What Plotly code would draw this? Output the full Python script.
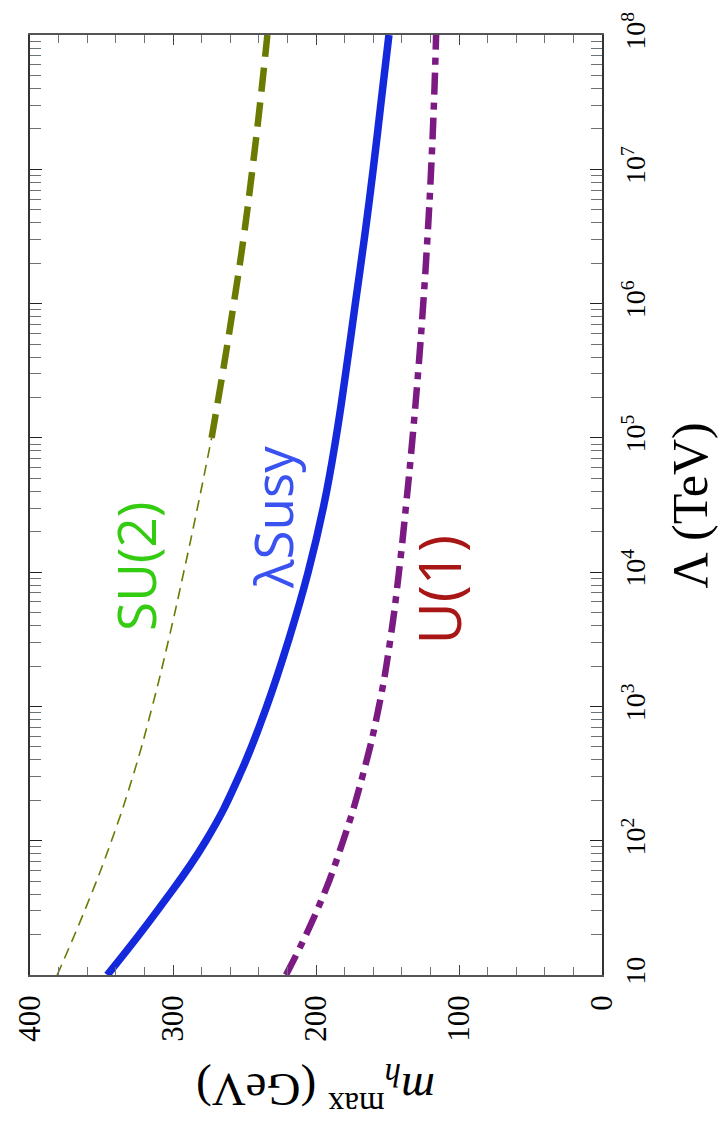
import plotly.graph_objects as go

# Cutoff scale Lambda (TeV), half-decade steps from 10 to 1e8
lambda_tev = [1e1, 31.62, 1e2, 316.2, 1e3, 3162, 1e4, 31623, 1e5,
              316228, 1e6, 3162278, 1e7, 31622777, 1e8]

# Upper bound on the light Higgs mass (GeV) for each model
su2_mh = [381, 361, 343, 327.5, 314.5, 303, 292.5, 282.5, 273, 265, 257.5, 250.5, 244.5, 239, 234]
lsusy_mh = [346, 309.5, 277, 253, 234.5, 219, 205.5, 194.5, 186, 179, 172.5, 166, 160, 154.5, 149]
u1_mh = [221, 198.5, 181, 167, 156, 148, 142, 137, 132.5, 128.5, 125, 122, 119.5, 117.5, 116]

# SU(2) curve is drawn thin below this scale and thick above it
su2_split = 1e5

# Axis ticks
mh_ticks = [0, 100, 200, 300, 400]
lambda_ticks = [1e1, 1e2, 1e3, 1e4, 1e5, 1e6, 1e7, 1e8]
lambda_ticktext = ["10", "10<sup>2</sup>", "10<sup>3</sup>", "10<sup>4</sup>",
                   "10<sup>5</sup>", "10<sup>6</sup>", "10<sup>7</sup>", "10<sup>8</sup>"]
lambda_minor = [k * 10 ** n for n in range(1, 8) for k in range(2, 10)]

OLIVE = "#6b7a00"
BLUE = "#1428dc"
PURPLE = "#7a1a82"

i_split = lambda_tev.index(su2_split)

fig = go.Figure()

# SU(2): thin dashed part
fig.add_trace(go.Scatter(
    x=su2_mh[:i_split + 1], y=lambda_tev[:i_split + 1], mode="lines",
    line=dict(color=OLIVE, width=1.6, dash="11px,7px", shape="spline", smoothing=1.3),
    showlegend=False, hoverinfo="skip"))
# SU(2): thick dashed part
fig.add_trace(go.Scatter(
    x=su2_mh[i_split:], y=lambda_tev[i_split:], mode="lines",
    line=dict(color=OLIVE, width=6.5, dash="24px,11px", shape="spline", smoothing=1.3),
    showlegend=False, hoverinfo="skip"))
# lambda-SUSY: thick solid
fig.add_trace(go.Scatter(
    x=lsusy_mh, y=lambda_tev, mode="lines",
    line=dict(color=BLUE, width=7.5, shape="spline", smoothing=1.3),
    showlegend=False, hoverinfo="skip"))
# U(1): thick dash-dot
fig.add_trace(go.Scatter(
    x=u1_mh, y=lambda_tev, mode="lines",
    line=dict(color=PURPLE, width=6.5, dash="22px,8px,7px,8px", shape="spline", smoothing=1.3),
    showlegend=False, hoverinfo="skip"))

label_font = "Open Sans, DejaVu Sans, sans-serif"
curve_labels = [
    ("SU(2)", 325.8, 4.04, "#33cc11", 53),
    ("λSusy", 230.9, 4.41, "#3a52f0", 53),
    ("U(1)", 114.0, 3.87, "#a81616", 58),
]
for text, xm, ylog, col, size in curve_labels:
    fig.add_annotation(x=xm, y=ylog, xref="x", yref="y", text=text,
                       showarrow=False, textangle=-90,
                       xanchor="center", yanchor="middle",
                       font=dict(family=label_font, size=size, color=col))

serif = "Liberation Serif, Times New Roman, serif"

# Axis titles
fig.add_annotation(x=1.1546, y=0.5, xref="paper", yref="paper",
                   text="Λ (TeV)", showarrow=False, textangle=-90,
                   xanchor="center", yanchor="middle",
                   font=dict(family=serif, size=50, color="black"))
fig.add_annotation(x=0.5, y=-0.122, xref="paper", yref="paper",
                   text="<i>m</i><sub><i>h</i></sub><sup>max</sup> (GeV)",
                   showarrow=False, textangle=180,
                   xanchor="center", yanchor="middle",
                   font=dict(family=serif, size=47, color="black"))

fig.update_layout(
    width=720, height=1133,
    margin=dict(l=20, r=118, t=35, b=158),
    paper_bgcolor="white", plot_bgcolor="white",
    showlegend=False,
)

fig.update_xaxes(
    range=[400, 0], tickvals=mh_ticks, tickangle=-90,
    tickfont=dict(family=serif, size=31, color="black"),
    ticks="inside", ticklen=10, tickwidth=1.2, tickcolor="#444",
    minor=dict(dtick=20, ticks="inside", ticklen=8, tickwidth=1.2, tickcolor="#6a7478", showgrid=False),
    showline=True, linecolor="#555", linewidth=1.5, mirror="allticks",
    showgrid=False, zeroline=False, ticklabelstandoff=6,
)
fig.update_yaxes(
    type="log", range=[1, 8], side="right",
    tickvals=lambda_ticks, ticktext=lambda_ticktext, tickangle=-90,
    tickfont=dict(family=serif, size=28, color="black"),
    ticks="inside", ticklen=12, tickwidth=1.4, tickcolor="#222",
    minor=dict(tickvals=lambda_minor, ticks="inside", ticklen=11, tickwidth=1.2, tickcolor="#6a7478", showgrid=False),
    showline=True, linecolor="#333", linewidth=1.5, mirror="allticks",
    showgrid=False, zeroline=False, ticklabelstandoff=8,
)

fig.write_html("out.html")
